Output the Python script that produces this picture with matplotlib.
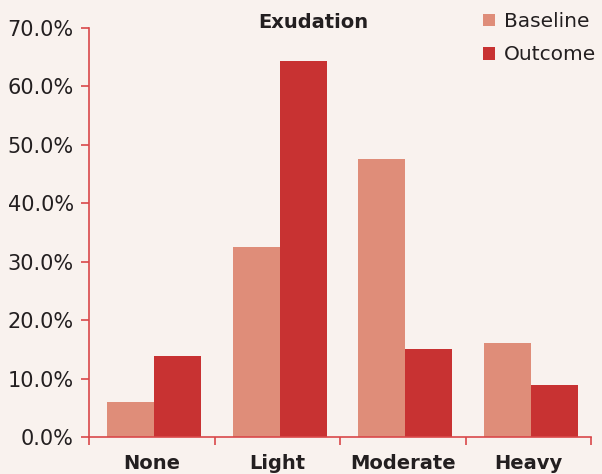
import matplotlib
matplotlib.use("Agg")
import matplotlib.pyplot as plt
import numpy as np
from matplotlib.ticker import FuncFormatter, FixedLocator
from matplotlib.patches import Patch

categories = ["None", "Light", "Moderate", "Heavy"]
baseline = [6.0, 32.5, 47.6, 16.1]
outcome = [13.9, 64.4, 15.1, 8.9]
series_names = ["Baseline", "Outcome"]

bg = "#f9f2ee"
c_base = "#df8d79"
c_out = "#c83232"
axis_c = "#d9484a"
text_c = "#231f20"

plt.rcParams['font.family'] = ['DejaVu Sans']

fig = plt.figure(figsize=(6.02, 4.74), dpi=100, facecolor=bg)
ax = fig.add_axes([89/602, 1-437/474, (591-89)/602, (437-28)/474])
ax.set_facecolor(bg)

x = np.arange(len(categories))
w = 0.375
ax.bar(x - w/2 + 0.02, baseline, width=w, color=c_base, label=series_names[0])
ax.bar(x + w/2 + 0.02, outcome, width=w, color=c_out, label=series_names[1])

ax.set_xlim(-0.5, len(categories) - 0.5)
ax.set_ylim(0, 70)
ax.set_yticks(np.arange(0, 71, 10))
ax.yaxis.set_major_formatter(FuncFormatter(lambda v, p: f"{v:.1f}%"))
ax.set_xticks(x)
ax.set_xticklabels(categories, fontweight="bold", fontsize=14, color=text_c)
ax.xaxis.set_minor_locator(FixedLocator(np.arange(-0.5, len(categories), 1.0)))
ax.tick_params(axis="x", which="major", length=0, pad=12)
ax.tick_params(axis="x", which="minor", length=6, color=axis_c, width=1.2)
ax.tick_params(axis="y", length=6, color=axis_c, width=1.2, labelsize=15,
               labelcolor=text_c, pad=5)

for s in ["top", "right"]:
    ax.spines[s].set_visible(False)
for s in ["left", "bottom"]:
    ax.spines[s].set_color(axis_c)
    ax.spines[s].set_linewidth(1.2)

fig.text(313/602, 1-22/474, "Exudation", ha="center", va="center",
         fontsize=14, fontweight="bold", color=text_c)

handles = [Patch(facecolor=c_base), Patch(facecolor=c_out)]
fig.legend(handles, series_names, loc="upper left", bbox_to_anchor=(469/602, 1.004),
           frameon=False, fontsize=14.5, handlelength=0.6, handleheight=0.6,
           handletextpad=0.45, labelspacing=0.7, borderaxespad=0.3,
           labelcolor=text_c)

fig.savefig("out.png", dpi=100, facecolor=bg)
